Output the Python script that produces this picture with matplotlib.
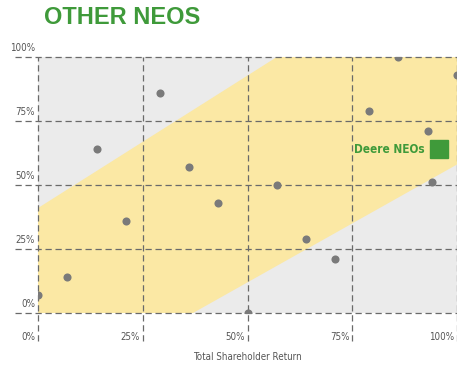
import matplotlib.pyplot as plt
from matplotlib.lines import Line2D

# percentile positions of the other NEOs
tsr = [0, 7, 14, 21, 29, 36, 43, 50, 57, 64, 71, 79, 86, 93, 94, 100]
pay = [7, 14, 64, 36, 86, 57, 43, 0, 50, 29, 21, 79, 100, 71, 51, 93]

# alignment band (corners, clockwise from bottom-left)
band_x = [0, 0, 57, 100, 100, 37]
band_y = [0, 41, 100, 100, 58, 0]

ticks = [0, 25, 50, 75, 100]
tick_labels = ["0%", "25%", "50%", "75%", "100%"]

GREEN = "#3f9a3a"
GRID = "#6a6a6a"
narrow = dict(family="DejaVu Sans", stretch="condensed")

fig = plt.figure(figsize=(4.57, 3.66), dpi=100)
ax = fig.add_axes([38 / 457, 53 / 366, 419 / 457, 256 / 366])
ax.set_xlim(0, 100)
ax.set_ylim(0, 100)
ax.set_facecolor("#ebebeb")
for s in ax.spines.values():
    s.set_visible(False)

ax.fill(band_x, band_y, color="#fbe8a4", lw=0, zorder=1)

# dashed grid, running out past the plot area
ax.hlines(ticks, -5.5, 100, colors=GRID, linestyles=(0, (5, 3)), lw=0.9,
          clip_on=False, zorder=2)
ax.vlines(ticks, -11, 100, colors=GRID, linestyles=(0, (5, 3)), lw=0.9,
          clip_on=False, zorder=2)

ax.scatter(tsr, pay, s=34, color="#7a7a7a", lw=0, zorder=3)

ax.set_xticks([])
ax.set_yticks([])
for t, lab in zip(ticks, tick_labels):
    ax.annotate(lab, (0, t), xytext=(-2, 3), textcoords="offset points",
                ha="right", va="bottom", fontsize=7, color="#555555",
                annotation_clip=False, **narrow)
    ax.annotate(lab, (t, 0), xytext=(-2, -17), textcoords="offset points",
                ha="right", va="center", fontsize=7, color="#555555",
                annotation_clip=False, **narrow)

ax.text(50, -17, "Total Shareholder Return", ha="center", va="center",
        fontsize=7, color="#555555", **narrow)

handle = Line2D([], [], marker="s", ls="none", markersize=13,
                markerfacecolor=GREEN, markeredgecolor=GREEN)
leg = ax.legend([handle], ["Deere NEOs"], loc="center right",
                bbox_to_anchor=(0.985, 0.64), frameon=False, markerfirst=False,
                handletextpad=0.6, handlelength=1.2, borderaxespad=0,
                prop={"size": 8.5, "weight": "bold", **narrow})
for txt in leg.get_texts():
    txt.set_color(GREEN)

fig.text(44 / 457, 1 - 18 / 366, "OTHER NEOS", ha="left", va="center",
         fontsize=17, fontweight="bold", color=GREEN, family="Liberation Sans")

fig.savefig("out.png", dpi=100)
